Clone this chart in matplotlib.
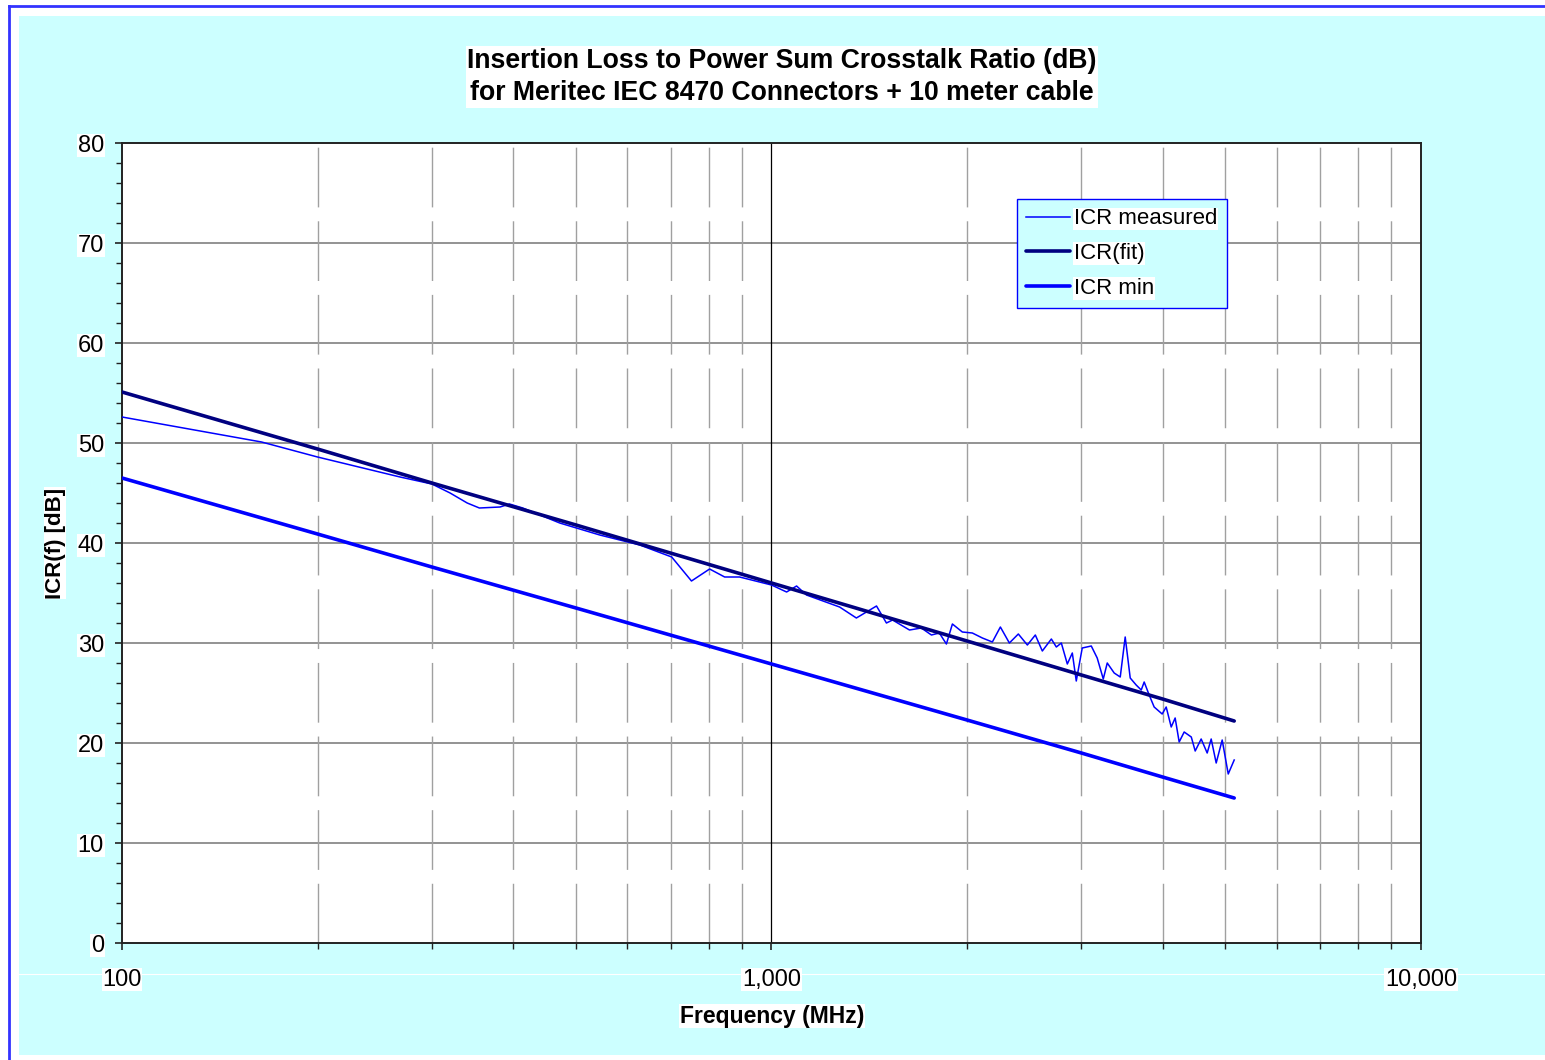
import matplotlib
matplotlib.use("Agg")
import matplotlib.pyplot as plt
from matplotlib.patches import Rectangle
from matplotlib.lines import Line2D
from matplotlib.ticker import FixedLocator, NullFormatter

plt.rcParams['font.family'] = ['Liberation Sans', 'DejaVu Sans']

# ---------------- data ----------------
title_lines = ["Insertion Loss to Power Sum Crosstalk Ratio (dB)",
               "for Meritec IEC 8470 Connectors + 10 meter cable"]
x_label = "Frequency (MHz)"
y_label = "ICR(f) [dB]"
series_names = ["ICR measured", "ICR(fit)", "ICR min"]

freq_meas = [100, 164, 200, 268, 300, 320, 340, 355, 382, 395, 414, 472, 544, 627, 702,
             753, 803, 847, 893, 1000, 1055, 1093, 1132, 1273, 1351, 1451, 1503, 1536,
             1631, 1701, 1763, 1813, 1859, 1899, 1967, 2038, 2112, 2188, 2251, 2324,
             2399, 2477, 2548, 2612, 2697, 2745, 2794, 2854, 2905, 2946, 3009, 3107,
             3173, 3242, 3288, 3370, 3443, 3504, 3567, 3643, 3709, 3748, 3815, 3883,
             3995, 4052, 4125, 4183, 4243, 4319, 4429, 4491, 4587, 4686, 4753, 4838,
             4942, 5049, 5157]
icr_meas = [52.6, 50.1, 48.6, 46.6, 45.9, 45.0, 44.0, 43.5, 43.6, 43.9, 43.5, 42.0, 40.8,
            39.8, 38.6, 36.2, 37.4, 36.6, 36.6, 35.8, 35.1, 35.7, 34.8, 33.6, 32.5, 33.7,
            32.0, 32.3, 31.3, 31.5, 30.8, 31.0, 29.9, 31.9, 31.1, 31.0, 30.5, 30.1, 31.6,
            30.0, 30.9, 29.8, 30.8, 29.2, 30.4, 29.6, 30.0, 27.9, 29.0, 26.2, 29.5, 29.7,
            28.5, 26.4, 28.0, 27.0, 26.6, 30.6, 26.5, 25.8, 25.3, 26.1, 24.8, 23.6, 22.9,
            23.6, 21.6, 22.5, 20.1, 21.1, 20.6, 19.2, 20.4, 19.0, 20.4, 18.0, 20.3, 16.9,
            18.3]

freq_fit = [100, 200, 300, 500, 1000, 2000, 3000, 4000, 5157]
icr_fit = [55.1, 49.4, 46.0, 41.8, 36.0, 30.2, 26.8, 24.4, 22.2]

freq_min = [100, 200, 300, 500, 1000, 2000, 3000, 4000, 5157]
icr_min = [46.5, 40.9, 37.6, 33.5, 27.9, 22.3, 19.0, 16.6, 14.5]

x_major = [100, 1000, 10000]
x_major_labels = ["100", "1,000", "10,000"]
x_minor = [200, 300, 400, 500, 600, 700, 800, 900,
           2000, 3000, 4000, 5000, 6000, 7000, 8000, 9000]
y_major = [0, 10, 20, 30, 40, 50, 60, 70, 80]
y_minor = [2, 4, 6, 8, 12, 14, 16, 18, 22, 24, 26, 28, 32, 34, 36, 38, 42, 44, 46, 48,
           52, 54, 56, 58, 62, 64, 66, 68, 72, 74, 76, 78]

# ---------------- figure ----------------
W, H = 1545, 1060
fig = plt.figure(figsize=(W / 100, H / 100), dpi=100)
fig.patch.set_facecolor('white')

def fx(px):
    return px / W

def fy(py):
    return (H - py) / H

CYAN = '#CCFFFF'
fig.add_artist(Rectangle((fx(19), fy(1055)), fx(W) - fx(19), fy(16) - fy(1055),
                         transform=fig.transFigure, facecolor=CYAN, edgecolor='none',
                         zorder=-10))
fig.add_artist(Line2D([fx(8.5), fx(8.5)], [0, fy(6)], transform=fig.transFigure,
                      color='#3333FF', lw=2.0, zorder=-9))
fig.add_artist(Line2D([fx(8.5), 1], [fy(6), fy(6)], transform=fig.transFigure,
                      color='#3333FF', lw=2.0, zorder=-9))
fig.add_artist(Line2D([fx(19), 1], [fy(974), fy(974)], transform=fig.transFigure,
                      color='white', lw=0.8, zorder=-8))

ax = fig.add_axes([fx(122), fy(943), fx(1421) - fx(122), fy(143) - fy(943)])
ax.set_facecolor('white')
ax.set_xscale('log')
ax.set_xlim(100, 10000)
ax.set_ylim(0, 80)

# grid lines
for v in y_major[1:-1]:
    ax.axhline(v, color='#808080', lw=1.2, zorder=1)
for v in x_minor:
    ax.axvline(v, color='#A0A0A0', lw=1.0, linestyle=(0, (43, 10)), zorder=1)
ax.axvline(1000, color='black', lw=0.9, zorder=1)

# series
ax.plot(freq_meas, icr_meas, color='#0000FF', lw=1.1, label=series_names[0], zorder=3)
ax.plot(freq_fit, icr_fit, color='#000080', lw=2.6, label=series_names[1], zorder=4,
        solid_capstyle='round')
ax.plot(freq_min, icr_min, color='#0000FF', lw=2.6, label=series_names[2], zorder=4,
        solid_capstyle='round')

# ticks
ax.xaxis.set_major_locator(FixedLocator(x_major))
ax.set_xticklabels(x_major_labels)
ax.xaxis.set_minor_locator(FixedLocator(x_minor))
ax.xaxis.set_minor_formatter(NullFormatter())
ax.yaxis.set_major_locator(FixedLocator(y_major))
ax.yaxis.set_minor_locator(FixedLocator(y_minor))
ax.tick_params(axis='both', which='both', direction='out', colors='#222222',
               labelcolor='black')
ax.tick_params(axis='x', which='major', length=5, width=1.2, pad=13.5, labelsize=17)
ax.tick_params(axis='x', which='minor', length=4, width=1.0)
ax.tick_params(axis='y', which='major', length=5, width=1.2, pad=8, labelsize=17)
ax.tick_params(axis='y', which='minor', length=4, width=1.0)
for lbl in ax.get_xticklabels() + ax.get_yticklabels():
    lbl.set_bbox(dict(facecolor='white', edgecolor='none', pad=0.5))

for s in ax.spines.values():
    s.set_color('#222222')
    s.set_linewidth(1.4)

# legend
leg = ax.legend(loc='upper left', bbox_to_anchor=((1017 - 122) / 1299, (943 - 199) / 800),
                frameon=True, fancybox=False, facecolor=CYAN, edgecolor='#0000FF',
                framealpha=1, fontsize=16, handlelength=1.95, handletextpad=0.2,
                labelspacing=0.62, borderpad=0.42, borderaxespad=0)
leg.get_frame().set_linewidth(1.0)
for t in leg.get_texts():
    t.set_bbox(dict(facecolor='white', edgecolor='none', pad=0.5))

# title and axis labels
fig.text(fx(782), fy(77), "\n".join(title_lines), ha='center', va='center',
         fontsize=19.2, fontweight='bold', linespacing=1.32,
         bbox=dict(facecolor='white', edgecolor='none', pad=1))
fig.text(fx(772), fy(1016), x_label, ha='center', va='center', fontsize=16.5,
         fontweight='bold', bbox=dict(facecolor='white', edgecolor='none', pad=0.5))
fig.text(fx(55), fy(543), y_label, ha='center', va='center', rotation=90, fontsize=16,
         fontweight='bold', bbox=dict(facecolor='white', edgecolor='none', pad=0.5))

fig.savefig('out.png', dpi=100, facecolor=fig.get_facecolor())
